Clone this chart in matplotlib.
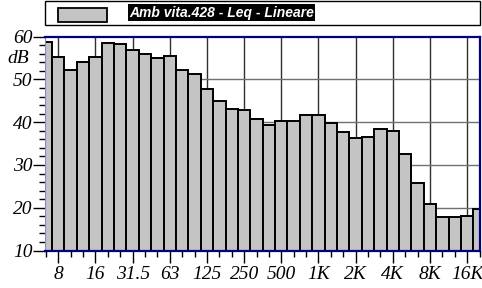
import matplotlib
matplotlib.use('Agg')
import matplotlib.pyplot as plt
from matplotlib.patches import Rectangle
import numpy as np

# third-octave bands, 6.3 Hz .. 20 kHz
bands = ['6.3', '8', '10', '12.5', '16', '20', '25', '31.5', '40', '50', '63', '80',
         '100', '125', '160', '200', '250', '315', '400', '500', '630', '800',
         '1K', '1.25K', '1.6K', '2K', '2.5K', '3.15K', '4K', '5K', '6.3K', '8K',
         '10K', '12.5K', '16K', '20K']
leq = [58.8, 55.3, 52.3, 54.1, 55.3, 58.6, 58.2, 56.8, 55.9, 55.1, 55.5, 52.2,
       51.2, 47.7, 44.9, 43.0, 42.8, 40.8, 39.3, 40.4, 40.3, 41.6,
       41.6, 39.7, 37.6, 36.2, 36.5, 38.3, 38.0, 32.5, 25.8, 20.9,
       17.8, 17.9, 18.1, 19.6]
octave_labels = ['8', '16', '31.5', '63', '125', '250', '500', '1K', '2K', '4K', '8K', '16K']
legend_label = 'Amb vita.428 - Leq - Lineare'

fig = plt.figure(figsize=(4.82, 2.88), dpi=100)
ax = fig.add_axes([0.0934, 0.1302, 0.9015, 0.7424])

x = np.arange(len(bands))
octave_pos = [bands.index(b) for b in octave_labels]

# grid behind bars
for p in octave_pos:
    ax.axvline(p, color='#303030', lw=1.0, zorder=0)
for yv in range(20, 60, 10):
    ax.axhline(yv, color='#707070', lw=1.0, zorder=0)

ax.bar(x, leq, width=1.0, color='#c4c4c4', edgecolor='black', linewidth=1.4, zorder=2)

ax.set_xlim(-0.07, 34.93)
ax.set_ylim(10, 60)

serif = {'family': 'Liberation Serif', 'style': 'italic', 'size': 14}

ax.set_xticks(octave_pos)
ax.set_xticklabels(octave_labels, fontdict=serif)
ax.set_xticks(x, minor=True)
ax.set_yticks(range(10, 61, 10))
ax.set_yticklabels([str(v) for v in range(10, 61, 10)], fontdict=serif)
ax.set_yticks(range(10, 61, 2), minor=True)

ax.tick_params(axis='x', which='major', length=8.5, width=1, pad=3, direction='out')
ax.tick_params(axis='x', which='minor', length=4.5, width=1, direction='out')
ax.tick_params(axis='y', which='major', length=8.5, width=1, pad=0.5, direction='out')
ax.tick_params(axis='y', which='minor', length=4, width=1, direction='out')

for s in ['top', 'bottom', 'right']:
    ax.spines[s].set_color('#000080')
    ax.spines[s].set_linewidth(1.6)
ax.spines['left'].set_color('#8888cc')
ax.spines['left'].set_linewidth(0.8)

fig.text(7 / 482, 1 - 58.5 / 288, 'dB', ha='left', va='center', **serif)

# legend box at top
fig.patches.append(Rectangle((45 / 482, 1 - 25 / 288), 435 / 482, 24 / 288,
                             transform=fig.transFigure, facecolor='white',
                             edgecolor='black', lw=1.0))
fig.patches.append(Rectangle((58 / 482, 1 - 22 / 288), 49 / 482, 14 / 288,
                             transform=fig.transFigure, facecolor='#c4c4c4',
                             edgecolor='black', lw=1.3))
fig.text(129 / 482, 1 - 12.5 / 288, legend_label, color='white',
         family='Liberation Sans', weight='bold', style='italic', size=10,
         ha='left', va='center',
         bbox=dict(facecolor='black', edgecolor='none', pad=1.0))

fig.savefig('out.png', dpi=100)
